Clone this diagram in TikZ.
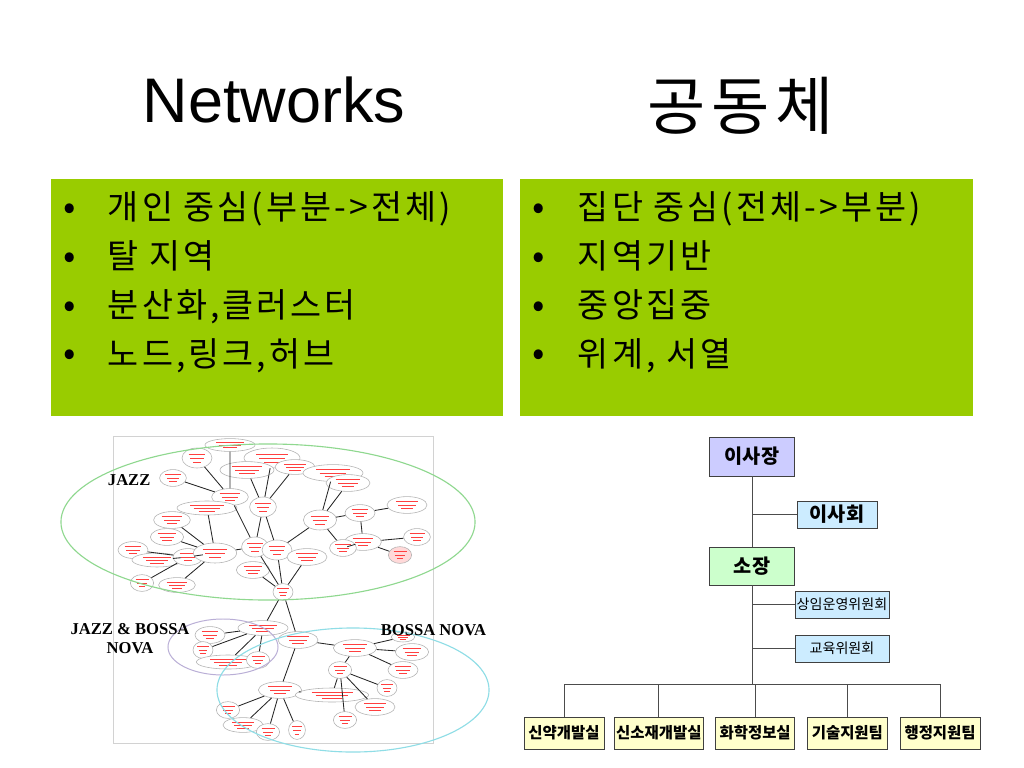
\documentclass[tikz,border=0pt]{standalone}
\usepackage{fontspec}
\setmainfont{Noto Sans CJK KR}
\newfontfamily\latinfont{Liberation Sans}
\newfontfamily\labelfont{Liberation Serif}
\newfontfamily\widefont[LetterSpace=9]{Noto Sans CJK KR}
\usetikzlibrary{positioning}
\usetikzlibrary{shapes.geometric, calc}

\definecolor{boxgreen}{HTML}{99CC00}
\definecolor{chairfill}{HTML}{CCCCFF}
\definecolor{boardfill}{HTML}{CCECFF}
\definecolor{directorfill}{HTML}{CCFFCC}
\definecolor{deptfill}{HTML}{FFFFCC}
\definecolor{jazzring}{HTML}{8FD88F}
\definecolor{bossaring}{HTML}{8FDDE6}
\definecolor{mixring}{HTML}{B9AED6}

\tikzset{
  netnode/.style={ellipse,draw=gray!60,fill=white,inner sep=0pt,line width=0.4pt,
    path picture={\draw[red!75,line width=0.35pt]
      let \p1=(path picture bounding box.north east),\p2=(path picture bounding box.south west),
      \n1={0.28*(\x1-\x2)},\n2={0.2*(\y1-\y2)} in
      ($(path picture bounding box.center)+(-\n1,\n2)$) -- ++(2*\n1,0pt)
      ($(path picture bounding box.center)+(-0.8*\n1,0pt)$) -- ++(1.6*\n1,0pt)
      ($(path picture bounding box.center)+(-0.5*\n1,-\n2)$) -- ++(\n1,0pt);}},
  netlink/.style={black!85,line width=0.6pt},
  orgbox/.style={rectangle,draw=black!75,line width=0.5pt,inner sep=1pt},
  orgline/.style={black!70,line width=0.6pt},
  itemtext/.style={anchor=base west,font=\widefont\fontsize{24}{28}\selectfont},
  itemdot/.style={anchor=base,font=\fontsize{26}{28}\selectfont},
  grouplabel/.style={font=\labelfont\bfseries\fontsize{11.8}{13.5}\selectfont,align=center}
}

\begin{document}
\begin{tikzpicture}[x=0.025cm,y=-0.025cm]
\useasboundingbox[fill=white] (0,0) rectangle (1024,768);

% titles
\node[anchor=base,font=\latinfont\fontsize{44.8}{50}\selectfont] (nettitle) at (274,123) {Networks};
\node[anchor=base,font=\widefont\fontsize{45}{50}\selectfont] (comtitle) at (741,130) {공동체};

% green boxes
\fill[boxgreen] (51,179) rectangle (503,416);
\fill[boxgreen] (520,179) rectangle (973,416);
\node[itemdot] (ldot1) at (70,219) {•};
\node[itemtext] (litem1) at (103,219.5) {개인 중심(부분->전체)};
\node[itemdot] (ldot2) at (70,268) {•};
\node[itemtext] (litem2) at (103,268.5) {탈 지역};
\node[itemdot] (ldot3) at (70,317) {•};
\node[itemtext] (litem3) at (103,317.5) {분산화,클러스터};
\node[itemdot] (ldot4) at (70,365.5) {•};
\node[itemtext] (litem4) at (103,366) {노드,링크,허브};
\node[itemdot] (rdot1) at (539,219) {•};
\node[itemtext] (ritem1) at (573,219.5) {집단 중심(전체->부분)};
\node[itemdot] (rdot2) at (539,268) {•};
\node[itemtext] (ritem2) at (573,268.5) {지역기반};
\node[itemdot] (rdot3) at (539,317) {•};
\node[itemtext] (ritem3) at (573,317.5) {중앙집중};
\node[itemdot] (rdot4) at (539,365.5) {•};
\node[itemtext] (ritem4) at (573,366) {위계, 서열};

% network picture
\draw[gray!35,line width=0.5pt] (113,436) rectangle (433,743);
\node[netnode,minimum width=1.25cm,minimum height=0.32cm] (n1) at (230,445) {};
\node[netnode,minimum width=0.75cm,minimum height=0.5cm] (n2) at (197,458) {};
\node[netnode,minimum width=1.4cm,minimum height=0.5cm] (n3) at (272,458) {};
\node[netnode,minimum width=1.35cm,minimum height=0.42cm] (n4) at (247,470) {};
\node[netnode,minimum width=1.0cm,minimum height=0.37cm] (n5) at (295,467) {};
\node[netnode,minimum width=1.5cm,minimum height=0.42cm] (n6) at (333,473) {};
\node[netnode,minimum width=1.1cm,minimum height=0.42cm] (n7) at (348,483) {};
\node[netnode,minimum width=0.67cm,minimum height=0.42cm] (n8) at (173,478) {};
\node[netnode,minimum width=0.92cm,minimum height=0.42cm] (n9) at (230,497) {};
\node[netnode,minimum width=0.67cm,minimum height=0.5cm] (n10) at (263,507) {};
\node[netnode,minimum width=1.5cm,minimum height=0.35cm] (n11) at (207,508) {};
\node[netnode,minimum width=0.92cm,minimum height=0.42cm] (n12) at (172,520) {};
\node[netnode,minimum width=0.83cm,minimum height=0.42cm] (n13) at (167,537) {};
\node[netnode,minimum width=0.83cm,minimum height=0.5cm] (n14) at (320,520) {};
\node[netnode,minimum width=0.75cm,minimum height=0.42cm] (n15) at (360,513) {};
\node[netnode,minimum width=1.0cm,minimum height=0.42cm] (n16) at (407,505) {};
\node[netnode,minimum width=0.67cm,minimum height=0.42cm] (n17) at (417,537) {};
\node[netnode,minimum width=0.92cm,minimum height=0.42cm] (n18) at (363,542) {};
\node[netnode,minimum width=0.67cm,minimum height=0.42cm] (n19) at (343,548) {};
\node[netnode,minimum width=0.58cm,minimum height=0.42cm,fill=red!15] (n20) at (400,555) {};
\node[netnode,minimum width=0.75cm,minimum height=0.42cm] (n21) at (133,550) {};
\node[netnode,minimum width=1.25cm,minimum height=0.35cm] (n22) at (157,560) {};
\node[netnode,minimum width=0.75cm,minimum height=0.42cm] (n23) at (188,557) {};
\node[netnode,minimum width=1.08cm,minimum height=0.5cm] (n24) at (215,553) {};
\node[netnode,minimum width=0.67cm,minimum height=0.5cm] (n25) at (255,547) {};
\node[netnode,minimum width=0.75cm,minimum height=0.5cm] (n26) at (277,550) {};
\node[netnode,minimum width=1.0cm,minimum height=0.42cm] (n27) at (307,557) {};
\node[netnode,minimum width=0.83cm,minimum height=0.42cm] (n28) at (253,570) {};
\node[netnode,minimum width=0.58cm,minimum height=0.42cm] (n29) at (142,583) {};
\node[netnode,minimum width=0.92cm,minimum height=0.37cm] (n30) at (177,585) {};
\node[netnode,minimum width=0.5cm,minimum height=0.42cm] (n31) at (283,592) {};
\node[netnode,minimum width=1.25cm,minimum height=0.37cm] (n32) at (263,628) {};
\node[netnode,minimum width=0.75cm,minimum height=0.42cm] (n33) at (210,635) {};
\node[netnode,minimum width=0.5cm,minimum height=0.42cm] (n34) at (203,650) {};
\node[netnode,minimum width=1.58cm,minimum height=0.35cm] (n35) at (228,662) {};
\node[netnode,minimum width=0.58cm,minimum height=0.42cm] (n36) at (258,660) {};
\node[netnode,minimum width=1.0cm,minimum height=0.42cm] (n37) at (298,640) {};
\node[netnode,minimum width=1.08cm,minimum height=0.42cm] (n38) at (355,648) {};
\node[netnode,minimum width=0.58cm,minimum height=0.25cm] (n39) at (403,637) {};
\node[netnode,minimum width=0.83cm,minimum height=0.42cm] (n40) at (412,652) {};
\node[netnode,minimum width=0.75cm,minimum height=0.42cm] (n41) at (403,670) {};
\node[netnode,minimum width=0.58cm,minimum height=0.42cm] (n42) at (340,670) {};
\node[netnode,minimum width=0.5cm,minimum height=0.42cm] (n43) at (387,688) {};
\node[netnode,minimum width=1.08cm,minimum height=0.42cm] (n44) at (280,690) {};
\node[netnode,minimum width=1.83cm,minimum height=0.35cm] (n45) at (332,695) {};
\node[netnode,minimum width=1.0cm,minimum height=0.42cm] (n46) at (375,707) {};
\node[netnode,minimum width=0.58cm,minimum height=0.42cm] (n47) at (345,720) {};
\node[netnode,minimum width=0.58cm,minimum height=0.42cm] (n48) at (228,710) {};
\node[netnode,minimum width=1.0cm,minimum height=0.37cm] (n49) at (243,725) {};
\node[netnode,minimum width=0.58cm,minimum height=0.42cm] (n50) at (268,732) {};
\node[netnode,minimum width=0.42cm,minimum height=0.47cm] (n51) at (297,730) {};

\draw[netlink] (n31) -- (n25) (n31) -- (n26) (n31) -- (n27) (n31) -- (n28) (n31) -- (n32) (n31) -- (n37);
\draw[netlink] (n25) -- (n10) (n25) -- (n24) (n25) -- (n9) (n26) -- (n14) (n26) -- (n10);
\draw[netlink] (n10) -- (n3) (n10) -- (n4) (n10) -- (n5) (n9) -- (n1) (n9) -- (n2) (n9) -- (n8);
\draw[netlink] (n24) -- (n11) (n24) -- (n12) (n24) -- (n13) (n24) -- (n23) (n24) -- (n30);
\draw[netlink] (n23) -- (n21) (n23) -- (n22) (n23) -- (n29);
\draw[netlink] (n14) -- (n6) (n14) -- (n7) (n14) -- (n15) (n14) -- (n19);
\draw[netlink] (n15) -- (n16) (n15) -- (n18) (n18) -- (n17) (n18) -- (n20) (n18) -- (n19);
\draw[netlink] (n32) -- (n33) (n32) -- (n34) (n32) -- (n35) (n32) -- (n36);
\draw[netlink] (n37) -- (n38) (n37) -- (n44);
\draw[netlink] (n38) -- (n39) (n38) -- (n40) (n38) -- (n41) (n38) -- (n42);
\draw[netlink] (n42) -- (n43) (n42) -- (n45) (n42) -- (n46) (n42) -- (n47);
\draw[netlink] (n44) -- (n48) (n44) -- (n49) (n44) -- (n50) (n44) -- (n51) (n44) -- (n45);

\draw[jazzring,line width=0.8pt] (268,522) ellipse [x radius=5.175cm,y radius=1.95cm];
\draw[mixring,line width=0.7pt] (223,647) ellipse [x radius=1.375cm,y radius=0.7cm];
\draw[bossaring,line width=0.8pt] (353,690) ellipse [x radius=3.4cm,y radius=1.55cm];
\node[grouplabel,anchor=base west] (jazzlabel) at (103,485) {JAZZ};
\node[grouplabel] (mixlabel) at (130,639) {JAZZ \& BOSSA\\NOVA};
\node[grouplabel,anchor=base] (bossalabel) at (433.5,635) {BOSSA NOVA};

% org chart
\node[orgbox,fill=chairfill,minimum width=2.125cm,minimum height=0.975cm,font=\fontsize{14}{16}\selectfont\bfseries] (chair) at (752,456.5) {이사장};
\node[orgbox,fill=boardfill,minimum width=2.0cm,minimum height=0.675cm,font=\fontsize{14}{16}\selectfont\bfseries] (board) at (837,514.5) {이사회};
\node[orgbox,fill=directorfill,minimum width=2.125cm,minimum height=0.95cm,font=\fontsize{14}{16}\selectfont\bfseries] (director) at (752,566) {소장};
\node[orgbox,fill=boardfill,minimum width=2.35cm,minimum height=0.675cm,font=\fontsize{10}{12}\selectfont] (opcommittee) at (842,604.5) {상임운영위원회};
\node[orgbox,fill=boardfill,minimum width=2.35cm,minimum height=0.675cm,font=\fontsize{10}{12}\selectfont] (educommittee) at (842,648.5) {교육위원회};
\node[orgbox,fill=deptfill,minimum width=2.0cm,minimum height=0.8cm,font=\fontsize{11}{13}\selectfont\bfseries] (drugdev) at (564,733) {신약개발실};
\node[orgbox,fill=deptfill,minimum width=2.175cm,minimum height=0.8cm,font=\fontsize{11}{13}\selectfont\bfseries,right=0.25cm of drugdev] (materialdev) {신소재개발실};
\node[orgbox,fill=deptfill,minimum width=1.975cm,minimum height=0.8cm,font=\fontsize{11}{13}\selectfont\bfseries,right=0.3cm of materialdev] (chemdata) {화학정보실};
\node[orgbox,fill=deptfill,minimum width=2.0cm,minimum height=0.8cm,font=\fontsize{11}{13}\selectfont\bfseries,right=0.3cm of chemdata] (techteam) {기술지원팀};
\node[orgbox,fill=deptfill,minimum width=2.0cm,minimum height=0.8cm,font=\fontsize{11}{13}\selectfont\bfseries,right=0.3cm of techteam] (adminteam) {행정지원팀};

\coordinate (busbar) at (752,684);
\draw[orgline] (chair) -- (director);
\draw[orgline] (director) -- (busbar);
\draw[orgline] (board) -- (board -| chair);
\draw[orgline] (opcommittee) -- (opcommittee -| chair);
\draw[orgline] (educommittee) -- (educommittee -| chair);
\draw[orgline] (drugdev |- busbar) -- (adminteam |- busbar);
\draw[orgline] (drugdev) -- (drugdev |- busbar);
\draw[orgline] (materialdev) -- (materialdev |- busbar);
\draw[orgline] (chemdata) -- (chemdata |- busbar);
\draw[orgline] (techteam) -- (techteam |- busbar);
\draw[orgline] (adminteam) -- (adminteam |- busbar);

\end{tikzpicture}
\end{document}
